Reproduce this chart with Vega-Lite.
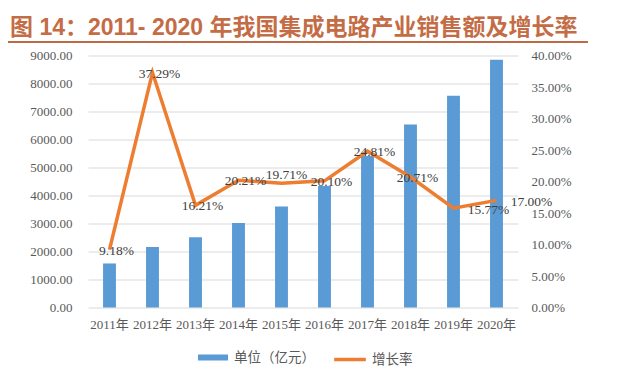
{
  "$schema": "https://vega.github.io/schema/vega-lite/v6.json",
  "width": 430,
  "height": 252,
  "autosize": {"type": "none"},
  "padding": {"left": 88, "top": 55.5, "right": 123, "bottom": 76.5},
  "background": "white",
  "config": {"view": {"stroke": null}},
  "title": {
    "text": "图 14：2011- 2020 年我国集成电路产业销售额及增长率",
    "anchor": "start",
    "frame": "group",
    "dx": -78,
    "offset": 1,
    "fontSize": 23,
    "fontWeight": "bold",
    "color": "#C46C45",
    "font": "Liberation Sans, Noto Sans CJK SC"
  },
  "data": {
    "values": [
      {"year": "2011年", "sales": 1572.4, "growth": 0.0918},
      {"year": "2012年", "sales": 2158.5, "growth": 0.3729},
      {"year": "2013年", "sales": 2508.5, "growth": 0.1621},
      {"year": "2014年", "sales": 3015.4, "growth": 0.2021},
      {"year": "2015年", "sales": 3609.8, "growth": 0.1971},
      {"year": "2016年", "sales": 4335.5, "growth": 0.2010},
      {"year": "2017年", "sales": 5411.3, "growth": 0.2481},
      {"year": "2018年", "sales": 6532.0, "growth": 0.2071},
      {"year": "2019年", "sales": 7562.3, "growth": 0.1577},
      {"year": "2020年", "sales": 8848.0, "growth": 0.1700}
    ]
  },
  "layer": [
    {
      "mark": {"type": "bar", "color": "#5B9BD5"},
      "encoding": {
        "x": {
          "field": "year", "type": "nominal", "sort": null,
          "scale": {"paddingInner": 0.7, "paddingOuter": 0.35},
          "axis": {
            "title": null, "labelAngle": 0, "ticks": false, "domain": false,
            "labelFont": "Liberation Serif, Noto Sans CJK SC", "labelFontSize": 13,
            "labelColor": "#595959", "labelPadding": 11, "labelOverlap": false
          }
        },
        "y": {
          "field": "sales", "type": "quantitative",
          "scale": {"domain": [0, 9000], "nice": false},
          "axis": {
            "title": null, "values": [0, 1000, 2000, 3000, 4000, 5000, 6000, 7000, 8000, 9000],
            "format": ".2f", "ticks": false, "domain": false, "grid": true,
            "gridColor": "#D9D9D9", "gridWidth": 1, "labelOverlap": false,
            "labelFont": "Liberation Serif", "labelFontSize": 13,
            "labelColor": "#595959", "labelPadding": 16
          }
        },
        "fill": {
          "datum": "单位（亿元）",
          "scale": {"range": ["#5B9BD5"]},
          "legend": {
            "orient": "none", "legendX": 109, "legendY": 286, "title": null,
            "symbolType": "M-1,-0.2H1V0.2H-1Z", "symbolSize": 900,
            "labelFont": "Noto Sans CJK SC", "labelFontSize": 13.5,
            "labelColor": "#595959", "labelOffset": 5, "padding": 0
          }
        }
      }
    },
    {
      "layer": [
        {
          "mark": {"type": "line", "color": "#ED7D31", "strokeWidth": 3.5},
          "encoding": {
            "x": {"field": "year", "type": "nominal", "sort": null},
            "y": {
              "field": "growth", "type": "quantitative",
              "scale": {"domain": [0, 0.4], "nice": false},
              "axis": {
                "title": null, "orient": "right",
                "values": [0, 0.05, 0.1, 0.15, 0.2, 0.25, 0.3, 0.35, 0.4],
                "format": ".2%", "ticks": false, "domain": false, "grid": false,
                "labelOverlap": false,
                "labelFont": "Liberation Serif", "labelFontSize": 13,
                "labelColor": "#595959", "labelPadding": 13
              }
            },
            "stroke": {
              "datum": "增长率",
              "scale": {"range": ["#ED7D31"]},
              "legend": {
                "orient": "none", "legendX": 244, "legendY": 286, "title": null,
                "symbolType": "stroke", "symbolSize": 1000, "symbolStrokeWidth": 3.5,
                "labelFont": "Noto Sans CJK SC", "labelFontSize": 13.5,
                "labelColor": "#595959", "labelOffset": 4, "padding": 0
              }
            }
          }
        },
        {
          "transform": [{"filter": "datum.year != '2015年' && datum.year != '2019年' && datum.year != '2020年'"}],
          "mark": {"type": "text", "font": "Liberation Serif", "fontSize": 13.5, "color": "#404040", "dx": 7, "dy": 1, "baseline": "middle"},
          "encoding": {
            "x": {"field": "year", "type": "nominal", "sort": null},
            "y": {
              "field": "growth", "type": "quantitative",
              "scale": {"domain": [0, 0.4], "nice": false},
              "axis": {
                "title": null, "orient": "right",
                "values": [0, 0.05, 0.1, 0.15, 0.2, 0.25, 0.3, 0.35, 0.4],
                "format": ".2%", "ticks": false, "domain": false, "grid": false,
                "labelOverlap": false,
                "labelFont": "Liberation Serif", "labelFontSize": 13,
                "labelColor": "#595959", "labelPadding": 13
              }
            },
            "text": {"field": "growth", "type": "quantitative", "format": ".2%"}
          }
        },
        {
          "transform": [{"filter": "datum.year == '2015年'"}],
          "mark": {"type": "text", "font": "Liberation Serif", "fontSize": 13.5, "color": "#404040", "dx": 5, "dy": -8, "baseline": "middle"},
          "encoding": {
            "x": {"field": "year", "type": "nominal", "sort": null},
            "y": {
              "field": "growth", "type": "quantitative",
              "scale": {"domain": [0, 0.4], "nice": false},
              "axis": {
                "title": null, "orient": "right",
                "values": [0, 0.05, 0.1, 0.15, 0.2, 0.25, 0.3, 0.35, 0.4],
                "format": ".2%", "ticks": false, "domain": false, "grid": false,
                "labelOverlap": false,
                "labelFont": "Liberation Serif", "labelFontSize": 13,
                "labelColor": "#595959", "labelPadding": 13
              }
            },
            "text": {"field": "growth", "type": "quantitative", "format": ".2%"}
          }
        },
        {
          "transform": [{"filter": "datum.year == '2019年' || datum.year == '2020年'"}],
          "mark": {"type": "text", "font": "Liberation Serif", "fontSize": 13.5, "color": "#404040", "dx": 35, "dy": 2, "baseline": "middle"},
          "encoding": {
            "x": {"field": "year", "type": "nominal", "sort": null},
            "y": {
              "field": "growth", "type": "quantitative",
              "scale": {"domain": [0, 0.4], "nice": false},
              "axis": {
                "title": null, "orient": "right",
                "values": [0, 0.05, 0.1, 0.15, 0.2, 0.25, 0.3, 0.35, 0.4],
                "format": ".2%", "ticks": false, "domain": false, "grid": false,
                "labelOverlap": false,
                "labelFont": "Liberation Serif", "labelFontSize": 13,
                "labelColor": "#595959", "labelPadding": 13
              }
            },
            "text": {"field": "growth", "type": "quantitative", "format": ".2%"}
          }
        }
      ]
    },
    {
      "data": {"values": [{}]},
      "mark": {"type": "rule", "color": "#BE6A46", "strokeWidth": 2},
      "encoding": {
        "x": {"value": -80},
        "x2": {"value": 500},
        "y": {"value": -13.5}
      }
    }
  ],
  "resolve": {"scale": {"y": "independent"}}
}
